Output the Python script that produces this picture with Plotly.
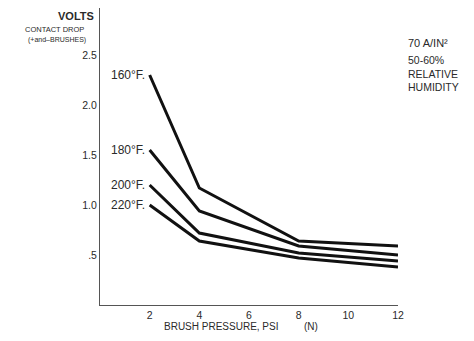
import plotly.graph_objects as go

pressure = [2, 4, 8, 12]
series_names = ["160°F.", "180°F.", "200°F.", "220°F."]
drop_160 = [2.30, 1.17, 0.64, 0.59]
drop_180 = [1.55, 0.94, 0.59, 0.50]
drop_200 = [1.20, 0.72, 0.52, 0.44]
drop_220 = [1.00, 0.64, 0.47, 0.38]
x_ticks = [2, 4, 6, 8, 10, 12]
y_ticks = [0.5, 1.0, 1.5, 2.0, 2.5]
y_tick_text = [".5", "1.0", "1.5", "2.0", "2.5"]

all_series = [drop_160, drop_180, drop_200, drop_220]

FONT = "Liberation Sans, Arial, sans-serif"
TXT = "#2a2a2a"

fig = go.Figure()
for name, vals in zip(series_names, all_series):
    fig.add_trace(go.Scatter(x=pressure, y=vals, mode="lines", name=name,
                             line=dict(color="#111111", width=3)))
    fig.add_annotation(x=pressure[0], y=vals[0], xref="x", yref="y",
                       text=name, showarrow=False, xanchor="right", yanchor="middle",
                       xshift=-3, font=dict(family=FONT, size=12, color=TXT))

# page is offset by the default 8px body margin
fig.update_layout(
    width=466, height=333,
    margin=dict(l=92, r=76, t=0, b=36),
    paper_bgcolor="white", plot_bgcolor="white",
    showlegend=False,
    font=dict(family=FONT, color=TXT),
)
fig.update_xaxes(range=[0, 12], tickvals=x_ticks, showgrid=False, zeroline=False,
                 showline=True, linecolor="#555555", linewidth=1,
                 ticks="", tickfont=dict(family=FONT, size=10.5, color=TXT))
fig.update_yaxes(range=[0, 2.97], tickvals=y_ticks, ticktext=y_tick_text,
                 showgrid=False, zeroline=False,
                 showline=True, linecolor="#555555", linewidth=1,
                 ticks="", tickfont=dict(family=FONT, size=10.5, color=TXT))

def px(xp):
    return (xp - 100) / 298.0

def py(yp):
    return (305 - yp) / 297.0

def ann(text, x, y, size, xanchor="left", bold=False):
    fig.add_annotation(x=px(x), y=py(y), xref="paper", yref="paper",
                       text=(f"<b>{text}</b>" if bold else text),
                       showarrow=False, xanchor=xanchor, yanchor="middle",
                       align="left", font=dict(family=FONT, size=size, color=TXT))

ann("VOLTS", 96, 16, 11, xanchor="right", bold=True)
ann("CONTACT DROP", 86, 29, 7.5, xanchor="right")
ann("(+and–BRUSHES)", 88, 40, 7, xanchor="right")
ann("70 A/IN²", 406, 43, 11)
ann("50-60%<br>RELATIVE<br>HUMIDITY", 406, 73, 10.5)
ann("BRUSH PRESSURE, PSI", 162, 327, 10)
ann("(N)", 302, 327, 10)

fig.write_html("out.html")
